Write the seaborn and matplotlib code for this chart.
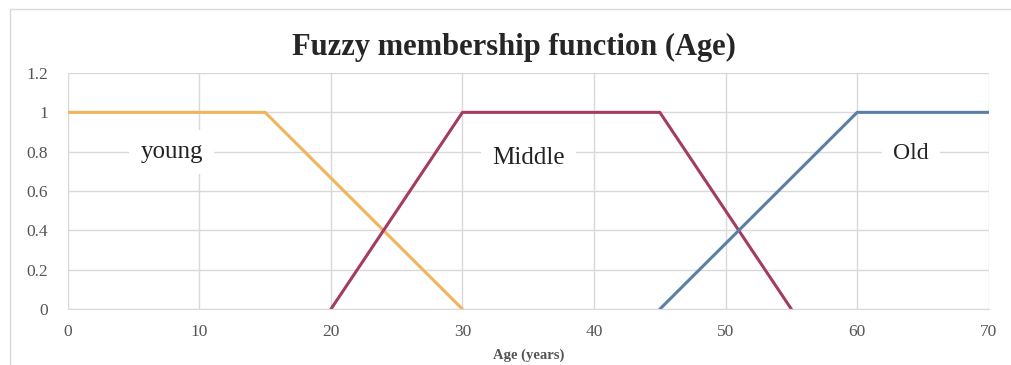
import matplotlib.pyplot as plt
import matplotlib.patches as mpatches
import pandas as pd
import seaborn as sns

# membership breakpoints
young_age = [0, 15, 30]
young_mu = [1, 1, 0]
middle_age = [20, 30, 45, 55]
middle_mu = [0, 1, 1, 0]
old_age = [45, 60, 70]
old_mu = [0, 1, 1]

x_ticks = [0, 10, 20, 30, 40, 50, 60, 70]
y_ticks = [0, 0.2, 0.4, 0.6, 0.8, 1, 1.2]
y_tick_labels = ["0", "0.2", "0.4", "0.6", "0.8", "1", "1.2"]

df = pd.concat([
    pd.DataFrame({"age": young_age, "mu": young_mu, "set": "young"}),
    pd.DataFrame({"age": middle_age, "mu": middle_mu, "set": "Middle"}),
    pd.DataFrame({"age": old_age, "mu": old_mu, "set": "Old"}),
])
palette = {"young": "#F2B45A", "Middle": "#A33B62", "Old": "#5A7FA8"}

sns.set_style("white")
plt.rcParams["font.family"] = ["Liberation Serif", "DejaVu Serif"]

fig = plt.figure(figsize=(10.11, 3.65), dpi=100)
ax = fig.add_axes([0.067, 0.153, 0.911, 0.647])

sns.lineplot(data=df, x="age", y="mu", hue="set", palette=palette,
             linewidth=2.2, sort=False, legend=False, ax=ax)

ax.set_xlim(0, 70)
ax.set_ylim(0, 1.2)
ax.set_xticks(x_ticks)
ax.set_yticks(y_ticks)
ax.set_yticklabels(y_tick_labels)
ax.grid(True, color="#D9D9D9", linewidth=1)
for side in ["top", "right", "left"]:
    ax.spines[side].set_visible(False)
ax.spines["bottom"].set_color("#D9D9D9")
ax.tick_params(axis="both", length=0, labelsize=12.5, colors="#555555")
ax.tick_params(axis="x", pad=11)
ax.tick_params(axis="y", pad=14)

for label, x, y, size in [("young", 7.9, 0.8, 18), ("Middle", 35, 0.77, 18),
                          ("Old", 64.1, 0.79, 17)]:
    ax.text(x, y, label, ha="center", va="center", fontsize=size, color="#222222",
            bbox=dict(facecolor="white", edgecolor="none", pad=8))

ax.set_xlabel("Age (years)", fontsize=10.5, fontweight="bold", color="#555555", labelpad=6)
ax.set_ylabel("")
fig.suptitle("Fuzzy membership function (Age)", x=0.508, y=0.87, va="center",
             fontsize=22, fontweight="bold")

fig.patches.append(mpatches.Rectangle((0.01, -0.1), 1.2, 1.075, fill=False,
                                      edgecolor="#D9D9D9", linewidth=1,
                                      transform=fig.transFigure))

fig.savefig("out.png", dpi=100)
